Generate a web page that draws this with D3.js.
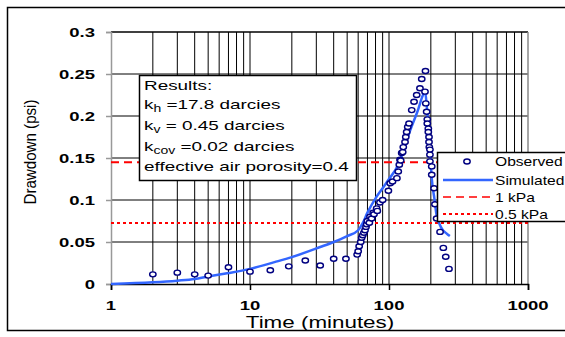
<!DOCTYPE html>
<html><head><meta charset="utf-8">
<script src="https://cdn.jsdelivr.net/npm/d3@7"></script>
<style>body{margin:0;background:#fff}svg{display:block}text{font-family:"Liberation Sans",Arial,sans-serif}</style>
</head><body><svg id="c" width="565" height="337"></svg>
<script>
const obsTime = [2,3,4,5,7,10,14,19,25,32,40,49,
 59,60,61,62.6,63.6,64.7,66,67.2,68.3,69.1,69.8,72.2,73,75,77,78,81.5,82.4,86,90,99,102,106,114,116.6,118.6,120,121.4,123.4,125.5,126.7,130.4,132,134,136.4,139.3,145.7,151.4,158.2,167,172,183,
 181.5,184,186.6,188.6,188.6,191.8,191.8,194,194,195,197,197,197,203,203,211,214,220,233,246,256,270];
const obsDrawdown = [0.0115,0.0135,0.0115,0.010,0.020,0.0147,0.0163,0.021,0.028,0.022,0.030,0.030,
 0.035,0.039,0.045,0.050,0.055,0.058,0.061,0.064,0.068,0.071,0.075,0.073,0.080,0.078,0.085,0.083,0.090,0.087,0.097,0.100,0.111,0.120,0.122,0.126,0.134,0.142,0.148,0.147,0.156,0.157,0.163,0.169,0.175,0.181,0.187,0.191,0.207,0.217,0.225,0.233,0.244,0.2536,
 0.229,0.215,0.205,0.196,0.191,0.185,0.181,0.175,0.169,0.163,0.160,0.154,0.146,0.140,0.130,0.114,0.095,0.078,0.062,0.043,0.0325,0.018];
const simTime = [1,2,3,4,5,7,10,15,20,32,40,50,60,65,70,80,90,100,115,125,140,160,178,182,187,192,197,203,212,220,240,260,274];
const simDrawdown = [0.000,0.002,0.004,0.006,0.009,0.013,0.018,0.026,0.032,0.044,0.050,0.057,0.064,0.073,0.085,0.102,0.114,0.125,0.140,0.155,0.180,0.205,0.227,0.229,0.211,0.187,0.163,0.126,0.102,0.082,0.066,0.060,0.057];
const refLines = [{label:"1 kPa", value:0.145, dash:"8,5"},{label:"0.5 kPa", value:0.0725, dash:"3,3"}];
const yTicks = [0,0.05,0.1,0.15,0.2,0.25,0.3];
const yTickLabels = ["0","0.05","0.1","0.15","0.2","0.25","0.3"];
const xTicks = [1,10,100,1000];
const xTickLabels = ["1","10","100","1000"];
const resultsLines = [
 [["Results:",""]],
 [["k",""],["h","sub"],[" =17.8 darcies",""]],
 [["k",""],["v","sub"],[" = 0.45 darcies",""]],
 [["k",""],["cov","sub"],[" =0.02 darcies",""]],
 [["effective air porosity=0.4",""]]
];
const legendItems = ["Observed","Simulated","1 kPa","0.5 kPa"];

const svg = d3.select("#c");
const x = d3.scaleLog().domain([1,1000]).range([111,528]);
const y = d3.scaleLinear().domain([0,0.3]).range([284,32]);
const SX = 1.37;

// outer frame
svg.append("rect").attr("x",7.5).attr("y",7.5).attr("width",600).attr("height",323)
  .attr("fill","#fff").attr("stroke","#000").attr("stroke-width",1.5);

// vertical grid lines (every log minor tick)
const vg = [];
for (const dec of [1,10,100]) for (let m=1;m<=9;m++) { if (dec*m>1) vg.push(dec*m); }
svg.append("g").selectAll("line").data(vg).join("line")
  .attr("x1",d=>x(d)).attr("x2",d=>x(d)).attr("y1",y(0.3)).attr("y2",y(0))
  .attr("stroke","#000").attr("stroke-width",1);
// horizontal grid
svg.append("g").selectAll("line").data(yTicks.filter(d=>d>0)).join("line")
  .attr("x1",x(1)).attr("x2",x(1000)).attr("y1",d=>y(d)).attr("y2",d=>y(d))
  .attr("stroke","#000").attr("stroke-width",d=>d===0.3?1.5:1);
// right border
svg.append("line").attr("x1",x(1000)).attr("x2",x(1000)).attr("y1",y(0.3)).attr("y2",y(0))
  .attr("stroke","#888").attr("stroke-width",1.5);

// y axis
const yAxis = svg.append("g").attr("transform",`translate(${x(1)},0)`)
  .call(d3.axisLeft(y).tickValues(yTicks).tickSize(5).tickFormat(""));
yAxis.select(".domain").attr("stroke","#999").attr("stroke-width",1.5);
yAxis.selectAll(".tick line").attr("stroke","#999").attr("stroke-width",1.5);
svg.append("g").selectAll("text").data(yTicks).join("text")
  .attr("transform",d=>`translate(95,${y(d)+5}) scale(${SX},1)`)
  .attr("text-anchor","end").attr("font-size",13.5).attr("font-weight","bold")
  .text((d,i)=>yTickLabels[i]);

// x axis
const xAxis = svg.append("g").attr("transform",`translate(0,${y(0)})`)
  .call(d3.axisBottom(x).tickValues(xTicks).tickSize(6).tickFormat(""));
xAxis.select(".domain").attr("stroke","#000").attr("stroke-width",1.5);
xAxis.selectAll(".tick line").attr("stroke","#000").attr("stroke-width",1.5);
svg.append("g").selectAll("text").data(xTicks).join("text")
  .attr("transform",d=>`translate(${x(d)},310) scale(${SX},1)`)
  .attr("text-anchor","middle").attr("font-size",13.5).attr("font-weight","bold")
  .text((d,i)=>xTickLabels[i]);

// axis titles
svg.append("text").attr("transform",`translate(320,328) scale(1.4,1)`)
  .attr("text-anchor","middle").attr("font-size",16).text("Time (minutes)");
svg.append("text").attr("transform","translate(36,152) rotate(-90) scale(1,1.3)")
  .attr("text-anchor","middle").attr("font-size",12).attr("textLength",105)
  .attr("lengthAdjust","spacingAndGlyphs").text("Drawdown (psi)");

// reference lines
svg.append("g").selectAll("line").data(refLines).join("line")
  .attr("x1",x(1)).attr("x2",x(1000)).attr("y1",d=>y(d.value)).attr("y2",d=>y(d.value))
  .attr("stroke","#f00").attr("stroke-width",2).attr("stroke-dasharray",d=>d.dash);

// simulated line
const simData = simTime.map((t,i)=>[t,simDrawdown[i]]);
svg.append("path").datum(simData)
  .attr("d",d3.line().x(d=>x(d[0])).y(d=>y(d[1])).curve(d3.curveMonotoneX))
  .attr("fill","none").attr("stroke","#3366ff").attr("stroke-width",2.5);

// observed points
const obsData = obsTime.map((t,i)=>[t,obsDrawdown[i]]);
svg.append("g").selectAll("ellipse").data(obsData).join("ellipse")
  .attr("cx",d=>x(d[0])).attr("cy",d=>y(d[1])).attr("rx",3.2).attr("ry",2.5)
  .attr("fill","#fff").attr("stroke","#000080").attr("stroke-width",1.4);

// results box
svg.append("rect").attr("x",139.5).attr("y",75.5).attr("width",217).attr("height",105)
  .attr("fill","#fff").attr("stroke","#000").attr("stroke-width",1.5);
const baselines = [90,109,130,151,171];
resultsLines.forEach((parts,i)=>{
  const t = svg.append("text").attr("transform",`translate(144,${baselines[i]}) scale(1.4,1)`)
    .attr("font-size",13.5);
  parts.forEach(p=>{
    const ts = t.append("tspan").text(p[0]);
    if (p[1]==="sub") ts.attr("font-size",10).attr("dy",3);
    else if (ts.node().previousSibling) ts.attr("dy",-3);
  });
});

// legend
svg.append("rect").attr("x",437.5).attr("y",152.5).attr("width",140).attr("height",69)
  .attr("fill","#fff").attr("stroke","#000").attr("stroke-width",1.5);
const rowY = [161.5,180,197,214];
svg.append("ellipse").attr("cx",467).attr("cy",rowY[0]).attr("rx",3.2).attr("ry",2.5)
  .attr("fill","#fff").attr("stroke","#000080").attr("stroke-width",1.4);
svg.append("line").attr("x1",443).attr("x2",493).attr("y1",rowY[1]).attr("y2",rowY[1])
  .attr("stroke","#3366ff").attr("stroke-width",2.5);
refLines.forEach((r,i)=>{
  svg.append("line").attr("x1",443).attr("x2",493).attr("y1",rowY[2+i]).attr("y2",rowY[2+i])
    .attr("stroke","#f00").attr("stroke-width",r.dash==="3,3"?2:1.5).attr("stroke-dasharray",r.dash);
});
legendItems.forEach((s,i)=>{
  svg.append("text").attr("transform",`translate(495,${rowY[i]+4.5}) scale(1.25,1)`)
    .attr("font-size",12.5).text(s);
});
</script></body></html>
